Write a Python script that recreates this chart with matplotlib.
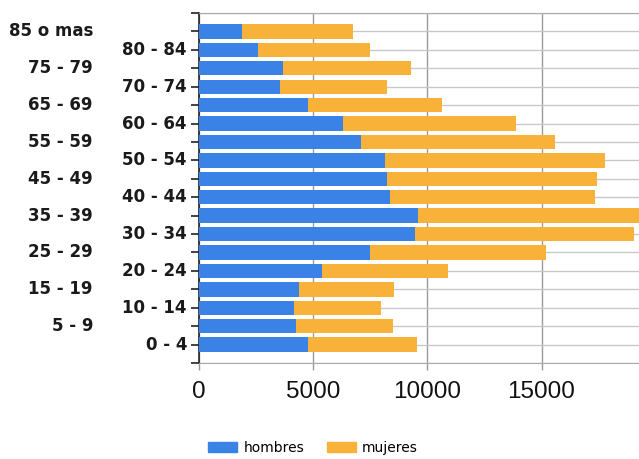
import matplotlib.pyplot as plt
from matplotlib.transforms import blended_transform_factory
from matplotlib.patches import Patch

# age groups, bottom to top
grupos = ["0 - 4", "5 - 9", "10 - 14", "15 - 19", "20 - 24", "25 - 29",
          "30 - 34", "35 - 39", "40 - 44", "45 - 49", "50 - 54", "55 - 59",
          "60 - 64", "65 - 69", "70 - 74", "75 - 79", "80 - 84", "85 o mas"]
hombres = [4760, 4250, 4175, 4380, 5400, 7500, 9460, 9610, 8380, 8235,
           8150, 7095, 6295, 4760, 3550, 3695, 2570, 1900]
mujeres = [4775, 4235, 3810, 4160, 5490, 7685, 9605, 9890, 8980, 9215,
           9620, 8500, 7590, 5885, 4700, 5575, 4920, 4860]

azul = "#3a82e6"
naranja = "#f8b23a"

fig = plt.figure(figsize=(6.39, 4.59), dpi=100)
ax = fig.add_axes([199 / 639, 1 - 363 / 459, 1 - 199 / 639, 350 / 459])

pos = list(range(len(grupos)))
ax.barh(pos, hombres, height=0.78, color=azul, zorder=3)
ax.barh(pos, mujeres, left=hombres, height=0.78, color=naranja, zorder=3)

ax.set_xlim(0, 19270)
ax.set_ylim(-1, len(grupos))

# category ticks at every bar plus both edges
ax.set_yticks(range(-1, len(grupos) + 1))
ax.set_yticklabels([""] * (len(grupos) + 2))
ax.tick_params(axis="y", length=6, width=1.2, color="#222222")
ax.yaxis.grid(True, color="#c8c8c8", linewidth=1, zorder=0)

ax.set_xticks([0, 5000, 10000, 15000])
ax.set_xticklabels(["0", "5000", "10000", "15000"], fontsize=17.5,
                   family="Liberation Sans", color="#111111")
ax.tick_params(axis="x", length=5, width=1, color="#999999", pad=8)
ax.get_xticklines()[0].set_color("#222222")
ax.xaxis.grid(True, color="#9a9a9a", linewidth=1, zorder=1)
ax.set_axisbelow(True)

for s in ["top", "bottom"]:
    ax.spines[s].set_color("#aaaaaa")
ax.spines["right"].set_visible(False)
ax.spines["left"].set_color("#222222")
ax.spines["left"].set_linewidth(1.2)

# labels in two staggered columns
trans = blended_transform_factory(fig.transFigure, ax.transData)
for i, g in enumerate(grupos):
    x = 187 / 639 if i % 2 == 0 else 93 / 639
    ax.text(x, i, g, transform=trans, ha="right", va="center",
            fontsize=12, fontweight="bold", color="#1a1a1a")

handles = [Patch(color=azul, label="hombres"), Patch(color=naranja, label="mujeres")]
fig.legend(handles=handles, loc="center", bbox_to_anchor=(0.49, 0.024), ncol=2,
           frameon=False, fontsize=10, handlelength=2.1, handleheight=0.72,
           handletextpad=0.45, columnspacing=1.6)

fig.savefig("out.png", dpi=100)
